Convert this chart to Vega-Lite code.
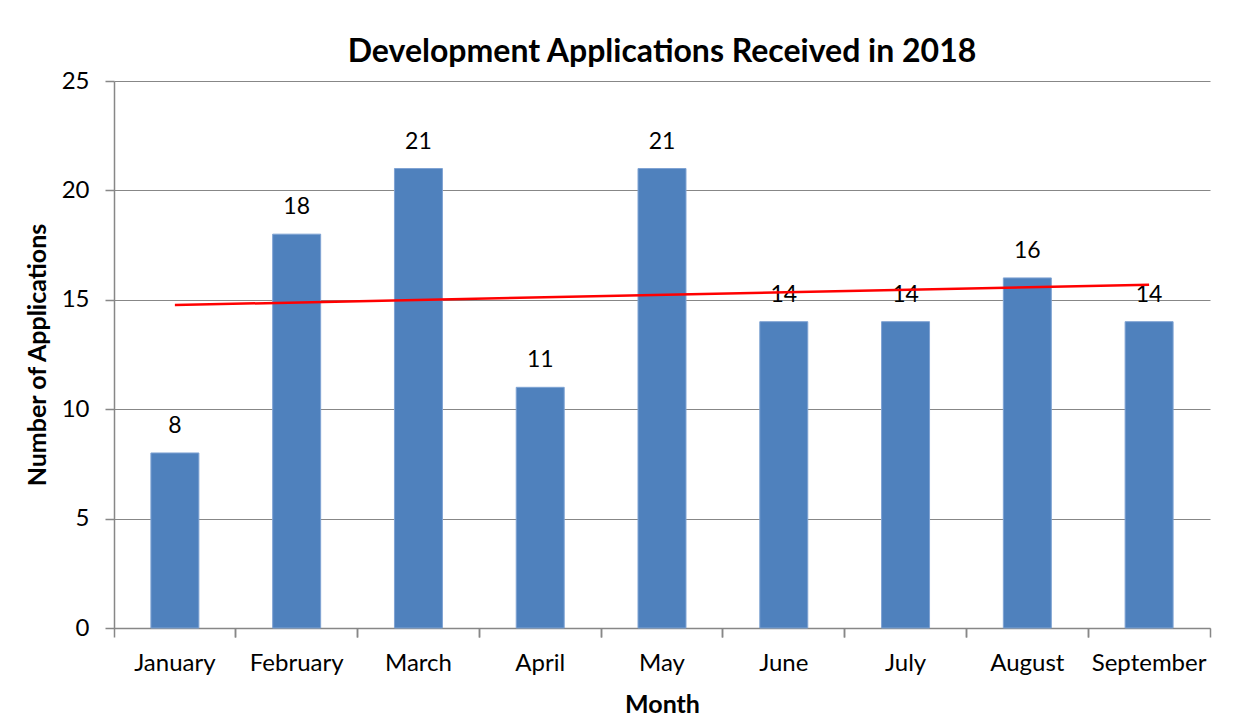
{
  "$schema": "https://vega.github.io/schema/vega-lite/v6.json",
  "width": 1096,
  "height": 547,
  "autosize": {"type": "none"},
  "padding": {"left": 114, "top": 81, "right": 24, "bottom": 91},
  "background": "white",
  "title": {
    "text": "Development Applications Received in 2018",
    "font": "Lato",
    "fontSize": 32,
    "fontWeight": "bold",
    "color": "#000000",
    "anchor": "middle",
    "offset": 0
  },
  "config": {
    "view": {"stroke": null},
    "font": "Lato"
  },
  "datasets": {
    "bars": [
      {"Month": "January", "Applications": 8},
      {"Month": "February", "Applications": 18},
      {"Month": "March", "Applications": 21},
      {"Month": "April", "Applications": 11},
      {"Month": "May", "Applications": 21},
      {"Month": "June", "Applications": 14},
      {"Month": "July", "Applications": 14},
      {"Month": "August", "Applications": 16},
      {"Month": "September", "Applications": 14}
    ],
    "trend": [
      {"Month": "January", "Trend": 14.76},
      {"Month": "September", "Trend": 15.69}
    ]
  },
  "resolve": {"axis": {"x": "independent"}},
  "layer": [
    {
      "data": {"name": "bars"},
      "mark": {"type": "bar", "color": "#4F81BD", "stroke": "#7FA3D3", "strokeWidth": 1, "width": {"band": 0.394}},
      "encoding": {
        "x": {
          "field": "Month",
          "type": "nominal",
          "sort": null,
          "scale": {"paddingInner": 0, "paddingOuter": 0},
          "axis": {
            "orient": "bottom",
            "title": "Month",
            "titleFont": "Lato",
            "titleFontSize": 25,
            "titleFontWeight": "bold",
            "titleColor": "#000000",
            "titlePadding": 17,
            "labelAngle": 0,
            "labelFont": "Lato",
            "labelFontSize": 24,
            "labelColor": "#000000",
            "labelPadding": 23,
            "domainColor": "#878787",
            "domainWidth": 1.5,
            "ticks": false,
            "grid": false
          }
        },
        "y": {
          "field": "Applications",
          "type": "quantitative",
          "scale": {"domain": [0, 25], "nice": false},
          "axis": {
            "title": "Number of Applications",
            "titleFont": "Lato",
            "titleFontSize": 25,
            "titleFontWeight": "bold",
            "titleColor": "#000000",
            "titlePadding": 11,
            "values": [0, 5, 10, 15, 20, 25],
            "labelFont": "Lato",
            "labelFontSize": 24,
            "labelColor": "#000000",
            "labelPadding": 16,
            "domainColor": "#878787",
            "domainWidth": 1.5,
            "tickColor": "#878787",
            "tickWidth": 1.5,
            "tickSize": 9,
            "gridColor": "#878787",
            "gridWidth": 1.2
          }
        }
      }
    },
    {
      "data": {"name": "bars"},
      "mark": {"type": "text", "baseline": "alphabetic", "dy": -20, "fontSize": 23, "font": "Lato", "color": "#000000"},
      "encoding": {
        "x": {
          "field": "Month",
          "type": "nominal",
          "sort": null,
          "axis": {
            "orient": "bottom",
            "title": null,
            "labels": false,
            "domain": false,
            "grid": false,
            "bandPosition": 0,
            "tickColor": "#878787",
            "tickWidth": 1.5,
            "tickSize": 9
          }
        },
        "y": {"field": "Applications", "type": "quantitative"},
        "text": {"field": "Applications", "type": "quantitative"}
      }
    },
    {
      "data": {"name": "trend"},
      "mark": {"type": "line", "color": "#FF0000", "strokeWidth": 2.5},
      "encoding": {
        "x": {
          "field": "Month",
          "type": "nominal",
          "sort": null,
          "axis": {
            "orient": "bottom",
            "title": null,
            "labels": false,
            "domain": false,
            "grid": false,
            "bandPosition": 1,
            "tickColor": "#878787",
            "tickWidth": 1.5,
            "tickSize": 9
          }
        },
        "y": {"field": "Trend", "type": "quantitative"}
      }
    }
  ]
}
